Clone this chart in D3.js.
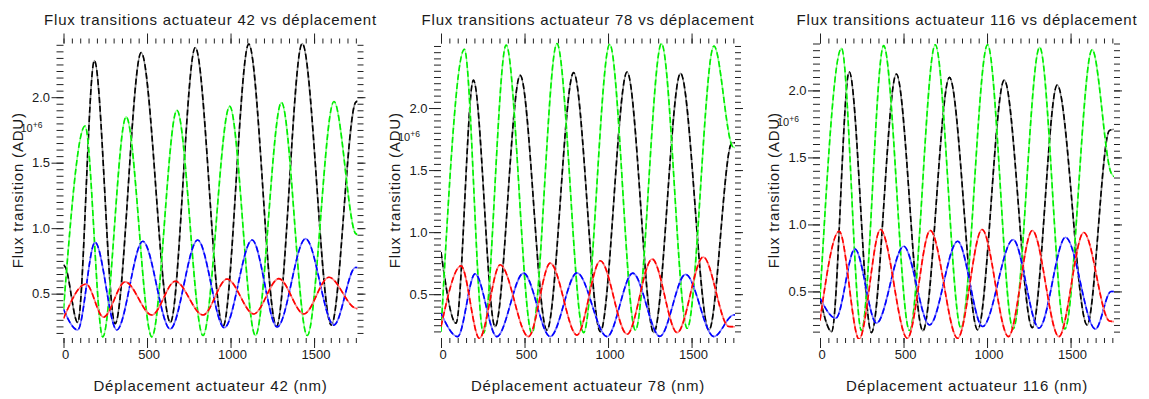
<!DOCTYPE html>
<html><head><meta charset="utf-8">
<script src="https://cdn.jsdelivr.net/npm/d3@7"></script>
<style>
html,body{margin:0;padding:0;background:#fff;}
svg{display:block;}
text{font-family:"Liberation Sans",Arial,Helvetica,sans-serif;fill:#1a1a1a;}
</style></head><body>
<svg id="chart" width="1149" height="399"></svg>
<script>
// ---- data ----
const titles = ["Flux transitions actuateur 42 vs déplacement",
                "Flux transitions actuateur 78 vs déplacement",
                "Flux transitions actuateur 116 vs déplacement"];
const xTitles = ["Déplacement actuateur 42 (nm)",
                 "Déplacement actuateur 78 (nm)",
                 "Déplacement actuateur 116 (nm)"];
const yTitle = "Flux transition (ADU)";
const xMajorTicks = [0, 500, 1000, 1500];
const yMajorTicks = [0.5, 1.0, 1.5, 2.0];
const xMax = 1760;

// panel 1 : actuator 42   [displacement nm, flux x1e6]
const black42 = [[0,0.72],[12,0.70],[85,0.28],[185,2.28],[309,0.27],[465,2.34],[640,0.28],[789,2.38],[955,0.25],[1109,2.405],[1275,0.25],[1429,2.41],[1603,0.26],[1748,1.96],[1760,1.97]];
const green42 = [[0,0.38],[129,1.78],[235,0.17],[375,1.85],[529,0.17],[679,1.90],[835,0.18],[995,1.93],[1149,0.18],[1305,1.96],[1459,0.18],[1619,1.967],[1748,0.96],[1760,0.95]];
const blue42  = [[0,0.38],[85,0.223],[189,0.893],[319,0.223],[475,0.90],[639,0.23],[803,0.91],[963,0.24],[1129,0.91],[1279,0.245],[1449,0.92],[1619,0.26],[1748,0.70],[1760,0.70]];
const red42   = [[0,0.31],[135,0.574],[239,0.32],[369,0.59],[529,0.337],[669,0.595],[835,0.337],[979,0.612],[1139,0.345],[1289,0.615],[1439,0.345],[1589,0.625],[1745,0.39],[1760,0.385]];

// panel 2 : actuator 78
const black78 = [[0,0.84],[90,0.266],[194,2.225],[324,0.238],[474,2.263],[634,0.21],[794,2.285],[954,0.198],[1114,2.29],[1274,0.19],[1434,2.28],[1604,0.21],[1742,1.72],[1760,1.72]];
const green78 = [[0,0.198],[140,2.473],[254,0.185],[390,2.508],[544,0.185],[694,2.519],[854,0.19],[1010,2.514],[1164,0.21],[1320,2.519],[1474,0.225],[1634,2.50],[1745,1.69],[1760,1.68]];
const blue78  = [[0,0.346],[100,0.158],[204,0.664],[334,0.158],[494,0.67],[654,0.158],[814,0.672],[994,0.158],[1148,0.67],[1310,0.16],[1464,0.66],[1634,0.158],[1745,0.33],[1760,0.335]];
const red78   = [[0,0.238],[120,0.728],[230,0.145],[354,0.737],[524,0.158],[654,0.75],[814,0.17],[954,0.769],[1114,0.177],[1264,0.783],[1414,0.19],[1570,0.80],[1722,0.24],[1760,0.238]];

// panel 3 : actuator 116
const black116 = [[0,0.45],[70,0.20],[175,2.139],[308,0.193],[457,2.122],[616,0.206],[775,2.097],[944,0.213],[1103,2.077],[1271,0.23],[1420,2.04],[1599,0.25],[1732,1.70],[1760,1.71]];
const green116 = [[0,0.45],[129,2.314],[248,0.208],[381,2.334],[536,0.208],[690,2.341],[844,0.226],[1003,2.341],[1156,0.22],[1315,2.322],[1466,0.22],[1629,2.304],[1742,1.386],[1760,1.356]];
const blue116  = [[0,0.45],[95,0.30],[209,0.817],[338,0.263],[501,0.837],[656,0.25],[824,0.874],[973,0.238],[1156,0.887],[1311,0.226],[1470,0.904],[1649,0.219],[1742,0.50],[1760,0.50]];
const red116   = [[0,0.283],[115,0.949],[234,0.144],[362,0.962],[523,0.15],[660,0.955],[824,0.15],[970,0.962],[1128,0.163],[1271,0.955],[1430,0.163],[1579,0.94],[1732,0.28],[1760,0.275]];

const seriesData = [
  [black42, green42, blue42, red42],
  [black78, green78, blue78, red78],
  [black116, green116, blue116, red116]
];
const yDomains = [[0.169, 2.41], [0.155, 2.52], [0.16, 2.35]];

// ---- layout / style ----
const lefts = [63.5, 441, 820];
const plotW = 294, plotTop = 43.5, plotBottom = 337;
const colors = [
  {dash:"#000000", under:"#8c8c8c"},
  {dash:"#00ee00", under:"#90ff90"},
  {dash:"#0000ff", under:"#7a7aff"},
  {dash:"#ff0000", under:"#ff8080"}
];
const svg = d3.select("#chart");
const tickColor = "#222";

titles.forEach((t, i) => {
  const L = lefts[i], R = L + plotW;
  const x = d3.scaleLinear().domain([0, xMax]).range([L, R]);
  const y = d3.scaleLinear().domain(yDomains[i]).range([plotBottom, plotTop]);
  const g = svg.append("g");
  const [y0, y1] = yDomains[i];
  const yMinor = d3.range(Math.ceil(y0 / 0.05 - 1e-6), Math.floor(y1 / 0.05 + 1e-6) + 1).map(k => +(k * 0.05).toFixed(2));
  const xMinor = d3.range(0, xMax + 1, 50);

  function styleAxis(sel) {
    sel.select(".domain").remove();
    sel.selectAll("line").attr("stroke", tickColor).attr("stroke-width", 1);
    sel.selectAll("text").attr("font-size", 13).attr("fill", "#1a1a1a")
      .attr("font-family", '"Liberation Sans",Arial,sans-serif');
  }
  g.append("g").attr("transform", `translate(${L},0)`)
    .call(d3.axisLeft(y).tickValues(yMinor).tickSize(7).tickFormat("")).call(styleAxis);
  g.append("g").attr("transform", `translate(${L},0)`)
    .call(d3.axisLeft(y).tickValues(yMajorTicks).tickSize(12).tickPadding(1.5).tickFormat(d3.format(".1f"))).call(styleAxis);
  g.append("g").attr("transform", `translate(${R},0)`)
    .call(d3.axisRight(y).tickValues(yMinor).tickSize(6).tickFormat("")).call(styleAxis);
  g.append("g").attr("transform", `translate(${R},0)`)
    .call(d3.axisRight(y).tickValues(yMajorTicks).tickSize(8).tickFormat("")).call(styleAxis);
  g.append("g").attr("transform", `translate(0,${plotBottom + 1})`)
    .call(d3.axisBottom(x).tickValues(xMinor).tickSize(5).tickFormat("")).call(styleAxis);
  const bx = g.append("g").attr("transform", `translate(0,${plotBottom + 1})`)
    .call(d3.axisBottom(x).tickValues(xMajorTicks).tickSize(10).tickPadding(2).tickFormat(d3.format("d"))).call(styleAxis);
  bx.selectAll("text").attr("dx", 1.5);
  g.append("g").attr("transform", `translate(0,${plotTop})`)
    .call(d3.axisTop(x).tickValues(xMinor).tickSize(5).tickFormat("")).call(styleAxis);
  g.append("g").attr("transform", `translate(0,${plotTop})`)
    .call(d3.axisTop(x).tickValues(xMajorTicks).tickSize(10).tickFormat("")).call(styleAxis);

  const clipId = "clip" + i;
  svg.append("clipPath").attr("id", clipId).append("rect")
    .attr("x", L).attr("y", plotTop - 2).attr("width", plotW).attr("height", plotBottom - plotTop + 4);
  const line = d3.line().x(d => x(d[0])).y(d => y(d[1])).curve(d3.curveMonotoneX);
  const cg = g.append("g").attr("clip-path", `url(#${clipId})`);
  seriesData[i].forEach((s, k) => {
    cg.append("path").attr("d", line(s)).attr("fill", "none")
      .attr("stroke", colors[k].under).attr("stroke-width", 1.6);
    cg.append("path").attr("d", line(s)).attr("fill", "none")
      .attr("stroke", colors[k].dash).attr("stroke-width", 1.6)
      .attr("stroke-dasharray", "6,3");
  });

  const fs = 15, ls = 0.8;
  g.append("text").attr("x", (L + R) / 2).attr("y", 25).attr("text-anchor", "middle")
    .attr("font-size", fs).attr("letter-spacing", ls).text(t);
  g.append("text").attr("x", (L + R) / 2).attr("y", 390.5).attr("text-anchor", "middle")
    .attr("font-size", fs).attr("letter-spacing", ls).text(xTitles[i]);
  g.append("text").attr("transform", `translate(${L - 41},${(plotTop + plotBottom) / 2}) rotate(-90)`)
    .attr("text-anchor", "middle").attr("font-size", fs).attr("letter-spacing", ls).text(yTitle);
  const ex = g.append("text").attr("x", L - 43).attr("y", y(1.735)).attr("font-size", 11);
  ex.append("tspan").text("10");
  ex.append("tspan").attr("font-size", 8.5).attr("dy", -4).text("+6");
});
</script>
</body></html>
